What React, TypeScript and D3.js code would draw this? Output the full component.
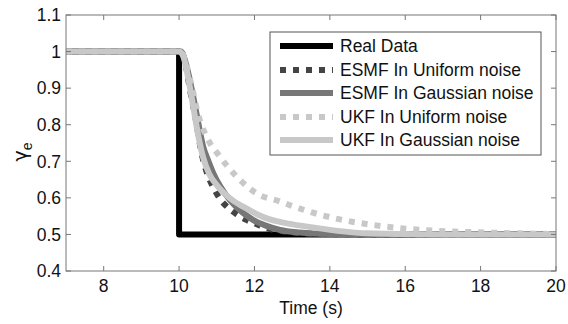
import React from "react";
import * as d3 from "d3";

const xTicks = [8, 10, 12, 14, 16, 18, 20];
const yTicks = [0.4, 0.5, 0.6, 0.7, 0.8, 0.9, 1, 1.1];

const realT = [7, 10, 10, 20];
const realV = [1, 1, 0.5, 0.5];

const esmfUT = [7, 10.05, 10.15, 10.29, 10.45, 10.6, 10.75, 10.9, 11.08, 11.3, 11.53, 11.8, 12.06, 12.4, 12.8, 13.3, 14, 15, 20];
const esmfUV = [1, 1, 0.975, 0.895, 0.81, 0.72, 0.665, 0.63, 0.598, 0.573, 0.555, 0.539, 0.528, 0.515, 0.508, 0.503, 0.501, 0.5, 0.5];

const esmfGT = [7, 10.05, 10.2, 10.35, 10.5, 10.64, 10.78, 10.91, 11.1, 11.35, 11.65, 11.96, 12.3, 12.68, 13.2, 14, 15, 20];
const esmfGV = [1, 1, 0.96, 0.89, 0.81, 0.74, 0.7, 0.667, 0.63, 0.594, 0.563, 0.54, 0.524, 0.512, 0.505, 0.501, 0.5, 0.5];

const ukfUT = [7, 10.05, 10.2, 10.35, 10.5, 10.73, 11.08, 11.53, 12.06, 12.68, 13.0, 13.5, 14.27, 15.14, 16.47, 17.3, 18.25, 19, 20];
const ukfUV = [1, 1, 0.96, 0.9, 0.83, 0.767, 0.713, 0.658, 0.612, 0.59, 0.578, 0.561, 0.541, 0.526, 0.512, 0.508, 0.505, 0.503, 0.501];

const ukfGT = [7, 10.0, 10.1, 10.2, 10.3, 10.4, 10.5, 10.64, 10.8, 11.0, 11.2, 11.45, 11.7, 12.05, 12.41, 12.94, 13.5, 14.27, 15, 16, 17, 20];
const ukfGV = [1, 1, 0.99, 0.95, 0.895, 0.835, 0.775, 0.71, 0.665, 0.635, 0.612, 0.591, 0.576, 0.556, 0.541, 0.529, 0.52, 0.509, 0.503, 0.501, 0.5, 0.5];

const seriesNames = ["Real Data", "ESMF In Uniform noise", "ESMF In Gaussian noise", "UKF In Uniform noise", "UKF In Gaussian noise"];

const W = 568, H = 324;
const L = 66, R = 556, T = 15, B = 271;
const FONT = "'Liberation Sans', Arial, Helvetica, sans-serif";

export default function App() {
  const x = d3.scaleLinear().domain([7, 20]).range([L, R]);
  const y = d3.scaleLinear().domain([0.4, 1.1]).range([B, T]);

  const styles = [
    { color: "#000000", dash: undefined as string | undefined, width: 6 },
    { color: "#444444", dash: "6,7", width: 6 },
    { color: "#777777", dash: undefined, width: 6 },
    { color: "#c8c8c8", dash: "6,7", width: 6 },
    { color: "#c8c8c8", dash: undefined, width: 6 },
  ];
  const data: [number[], number[]][] = [
    [realT, realV],
    [esmfUT, esmfUV],
    [esmfGT, esmfGV],
    [ukfUT, ukfUV],
    [ukfGT, ukfGV],
  ];

  const lineLin = d3.line<[number, number]>().x(d => x(d[0])).y(d => y(d[1]));
  const lineSmooth = d3.line<[number, number]>().x(d => x(d[0])).y(d => y(d[1])).curve(d3.curveMonotoneX);

  const tickLen = 5;
  const legX0 = 280, legX1 = 333, legTx = 340;
  const legRows = [46, 70, 93, 117, 140];

  return (
    <svg width={W} height={H} style={{ position: "absolute", left: 0, top: 0 }} fontFamily={FONT}>
      <rect x={0} y={0} width={W} height={H} fill="#fff" />
      <defs>
        <clipPath id="plotclip">
          <rect x={L} y={T} width={R - L} height={B - T} />
        </clipPath>
      </defs>
      <g clipPath="url(#plotclip)">
        {data.map((d, i) => {
          const pts = d[0].map((t, k) => [t, d[1][k]] as [number, number]);
          const gen = i === 0 ? lineLin : lineSmooth;
          return (
            <path key={i} d={gen(pts) || ""} fill="none" stroke={styles[i].color}
              strokeWidth={styles[i].width} strokeDasharray={styles[i].dash}
              strokeLinejoin="round" strokeLinecap={styles[i].dash ? "butt" : "round"} />
          );
        })}
      </g>
      <rect x={L} y={T} width={R - L} height={B - T} fill="none" stroke="#777" strokeWidth={1} />
      {xTicks.map(t => (
        <g key={"xt" + t}>
          <line x1={x(t)} x2={x(t)} y1={B} y2={B - tickLen} stroke="#777" />
          <line x1={x(t)} x2={x(t)} y1={T} y2={T + tickLen} stroke="#777" />
          <text x={x(t)} y={292} textAnchor="middle" fontSize={17.5} fill="#111">{t}</text>
        </g>
      ))}
      {yTicks.map(t => (
        <g key={"yt" + t}>
          <line x1={L} x2={L + tickLen} y1={y(t)} y2={y(t)} stroke="#777" />
          <line x1={R} x2={R - tickLen} y1={y(t)} y2={y(t)} stroke="#777" />
          <text x={61} y={y(t)} dy="0.36em" textAnchor="end" fontSize={17.5} fill="#111">{d3.format("~g")(t)}</text>
        </g>
      ))}
      <text x={(L + R) / 2} y={314} textAnchor="middle" fontSize={17.5} fill="#111">Time (s)</text>
      <text transform="translate(27,152) rotate(-90)" textAnchor="middle" fontSize={19} fill="#111">
        <tspan fontFamily="'DejaVu Sans', sans-serif">γ</tspan><tspan fontSize={14} dy={5}>e</tspan>
      </text>
      <rect x={270} y={32} width={271} height={123} fill="#fff" stroke="#555" strokeWidth={1} />
      {seriesNames.map((n, i) => (
        <g key={n}>
          <line x1={legX0} x2={legX1} y1={legRows[i]} y2={legRows[i]} stroke={styles[i].color}
            strokeWidth={styles[i].width} strokeDasharray={styles[i].dash} />
          <text x={legTx} y={legRows[i]} dy="0.36em" fontSize={17.5} fill="#111">{n}</text>
        </g>
      ))}
    </svg>
  );
}
